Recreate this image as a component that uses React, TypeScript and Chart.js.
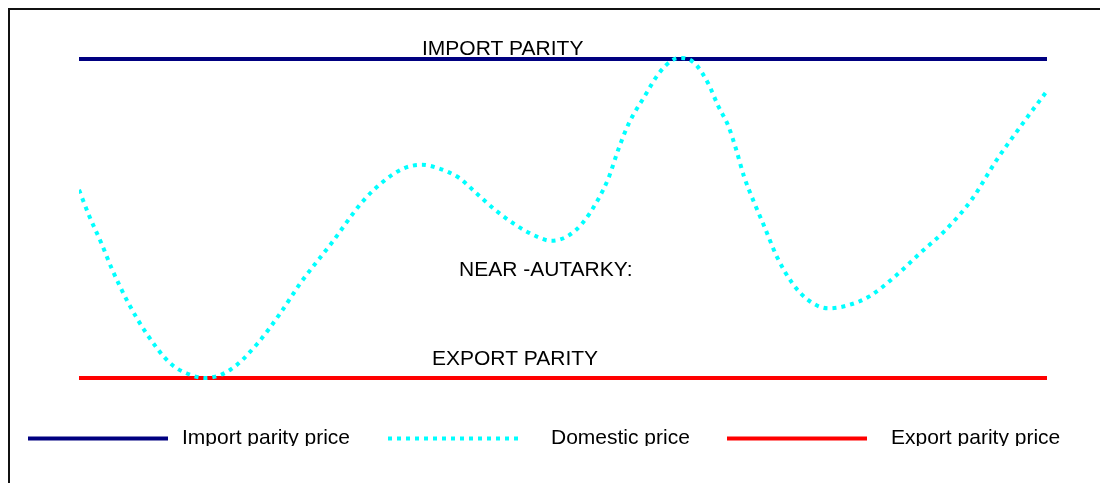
import React, { useEffect, useRef } from "react";
import { Chart, registerables } from "chart.js";

Chart.register(...registerables);

// Time axis (0–100) and price values
const domesticX = [0, 1.1, 2.3, 3.4, 5.1, 7.0, 9.4, 11.1, 13.0, 15.6, 18.4, 20.8, 22.9, 26.1, 29.3, 31.4, 33.5, 35.4, 37.2, 39.3, 40.9, 43.0, 45.1, 47.3, 48.8, 50.4, 52.0, 53.6, 54.7, 55.7, 56.8, 58.4, 59.9, 61.3, 62.2, 63.6, 65.0, 66.0, 67.1, 67.9, 68.7, 69.7, 70.8, 72.1, 73.7, 75.3, 77.4, 79.5, 81.6, 84.3, 86.9, 89.5, 92.2, 94.8, 97.5, 100];
const domesticPrice = [55.4, 50.3, 45.4, 40.5, 34.1, 28.3, 22.8, 20.9, 20.0, 21.5, 26.4, 32.2, 37.9, 45.4, 53.2, 56.9, 59.4, 60.1, 59.4, 57.6, 55.0, 51.6, 48.8, 46.6, 45.8, 46.6, 49.1, 53.5, 57.6, 62.9, 67.9, 72.9, 77.3, 79.8, 80.2, 79.2, 75.4, 71.3, 67.3, 62.9, 57.9, 53.2, 48.5, 42.8, 37.8, 34.7, 33.1, 33.7, 35.3, 39.1, 43.5, 47.8, 53.5, 61.0, 67.9, 74.0];

const parityX = [0, 100];
const importParity = [80, 80];
const exportParity = [20, 20];

const seriesLabels = ["Import parity price", "Domestic price", "Export parity price"];
const annotationLabels = ["IMPORT PARITY", "NEAR -AUTARKY:", "EXPORT PARITY"];

const FONT = '21px "Liberation Sans", Arial, sans-serif';

const NAVY = "#000080";
const CYAN = "#00FFFF";
const RED = "#FF0000";

const textPlugin = {
  id: "textAndLegend",
  afterDraw(chart: any) {
    const ctx = chart.ctx as CanvasRenderingContext2D;
    const ys = chart.scales.y;
    ctx.save();
    ctx.font = FONT;
    ctx.fillStyle = "#000";
    ctx.textBaseline = "alphabetic";
    ctx.textAlign = "left";
    // annotations
    ctx.fillText(annotationLabels[0], 414, ys.getPixelForValue(80) - 4);
    ctx.fillText(annotationLabels[1], 451, 267.5);
    ctx.fillText(annotationLabels[2], 424, ys.getPixelForValue(20) - 13);

    // legend
    const items = [
      { label: seriesLabels[0], color: NAVY, dash: [] as number[], x0: 20, x1: 160, tx: 174 },
      { label: seriesLabels[1], color: CYAN, dash: [4, 5], x0: 380, x1: 515, tx: 543 },
      { label: seriesLabels[2], color: RED, dash: [] as number[], x0: 719, x1: 859, tx: 883 },
    ];
    const ly = 430.5;
    items.forEach((it) => {
      ctx.save();
      ctx.strokeStyle = it.color;
      ctx.lineWidth = 4;
      ctx.lineCap = "butt";
      ctx.setLineDash(it.dash);
      ctx.beginPath();
      ctx.moveTo(it.x0, ly);
      ctx.lineTo(it.x1, ly);
      ctx.stroke();
      ctx.restore();
    });
    ctx.save();
    ctx.beginPath();
    ctx.rect(0, 410, chart.width, 28);
    ctx.clip();
    items.forEach((it) => {
      ctx.fillText(it.label, it.tx, 436);
    });
    ctx.restore();
    ctx.restore();
  },
};

export default function App() {
  const ref = useRef<HTMLCanvasElement | null>(null);

  useEffect(() => {
    document.documentElement.style.overflow = "hidden";
    document.body.style.overflow = "hidden";
    if (!ref.current) return;
    const chart = new Chart(ref.current, {
      type: "line",
      data: {
        datasets: [
          {
            label: seriesLabels[0],
            data: parityX.map((x, i) => ({ x, y: importParity[i] })),
            borderColor: NAVY,
            borderWidth: 4,
            pointRadius: 0,
            fill: false,
            order: 2,
          },
          {
            label: seriesLabels[1],
            data: domesticX.map((x, i) => ({ x, y: domesticPrice[i] })),
            borderColor: CYAN,
            borderWidth: 4,
            borderDash: [4, 5],
            borderCapStyle: "butt",
            pointRadius: 0,
            fill: false,
            cubicInterpolationMode: "monotone",
            order: 0,
          },
          {
            label: seriesLabels[2],
            data: parityX.map((x, i) => ({ x, y: exportParity[i] })),
            borderColor: RED,
            borderWidth: 4,
            pointRadius: 0,
            fill: false,
            order: 2,
          },
        ],
      },
      options: {
        responsive: false,
        animation: false,
        layout: { padding: { left: 71, right: 53, top: 24.42, bottom: 78.42 } },
        scales: {
          x: { type: "linear", min: 0, max: 100, display: false },
          y: { type: "linear", min: 15, max: 85, display: false },
        },
        plugins: {
          legend: { display: false },
          tooltip: { enabled: false },
        },
      },
      plugins: [textPlugin],
    });
    return () => chart.destroy();
  }, []);

  return (
    <div style={{ position: "fixed", left: 8, top: 8, width: 1092, height: 475, overflow: "hidden" }}>
      <div
        style={{
          position: "absolute",
          left: 0,
          top: 0,
          width: 1200,
          height: 600,
          border: "2px solid #111",
          boxSizing: "border-box",
        }}
      />
      <canvas
        ref={ref}
        width={1092}
        height={475}
        style={{ position: "absolute", left: 0, top: 0 }}
      />
    </div>
  );
}
